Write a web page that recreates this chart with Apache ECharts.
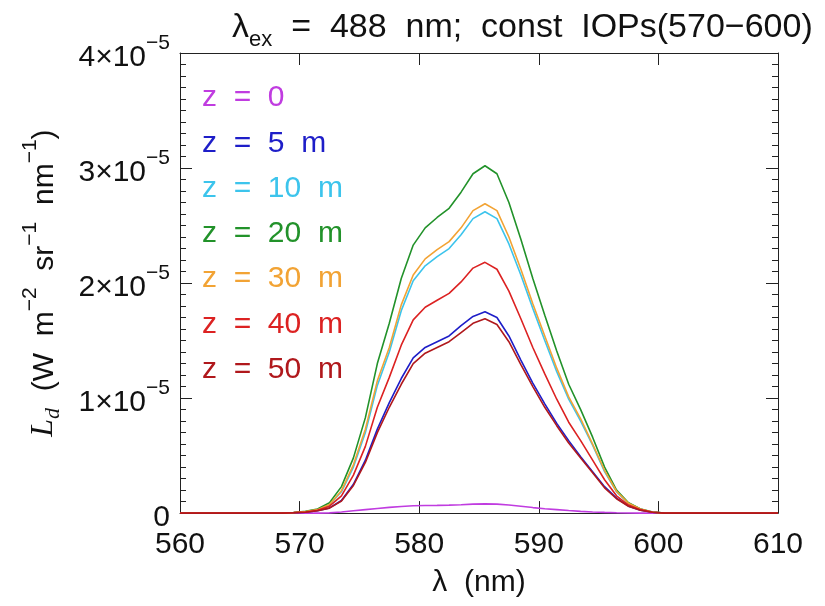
<!DOCTYPE html>
<html>
<head>
<meta charset="utf-8">
<script src="https://cdn.jsdelivr.net/npm/echarts@6/dist/echarts.min.js"></script>
<style>
html,body{margin:0;padding:0;background:#fff;}
#chart{width:825px;height:606px;}
</style>
</head>
<body>
<div id="chart"></div>
<script>
// wavelength (nm)
const wavelength = [560, 568.5, 569.5, 570.5, 571.5, 572.5, 573.5, 574.5, 575.5, 576.5, 577.5, 578.5, 579.5, 580.5, 581.5, 582.5, 583.5, 584.5, 585.5, 586.5, 587.5, 588.5, 589.5, 590.5, 591.5, 592.5, 593.5, 594.5, 595.5, 596.5, 597.5, 598.5, 599.5, 600.5, 610];
// radiance in units of 1e-6 W m^-2 sr^-1 nm^-1
const z0  = [0, 0, 0, 0, 0, 0.02, 0.1, 0.2, 0.3, 0.4, 0.5, 0.58, 0.64, 0.66, 0.67, 0.69, 0.73, 0.78, 0.8, 0.78, 0.7, 0.6, 0.48, 0.38, 0.3, 0.22, 0.15, 0.1, 0.06, 0.03, 0.01, 0, 0, 0, 0];
const z5  = [0, 0, 0.03, 0.08, 0.2, 0.45, 1.1, 2.5, 4.6, 7.3, 9.6, 11.7, 13.5, 14.4, 14.9, 15.4, 16.3, 17.1, 17.5, 17.0, 15.4, 13.3, 11.3, 9.5, 7.8, 6.3, 4.9, 3.6, 2.3, 1.3, 0.6, 0.25, 0.07, 0, 0];
const z10 = [0, 0, 0.05, 0.13, 0.3, 0.72, 1.85, 4.0, 7.0, 11.1, 14.0, 17.6, 20.2, 21.5, 22.3, 23.0, 24.2, 25.6, 26.2, 25.6, 23.4, 20.7, 17.8, 15.0, 12.3, 9.9, 8.0, 5.9, 3.6, 1.85, 0.85, 0.35, 0.1, 0, 0];
const z20 = [0, 0, 0.05, 0.15, 0.35, 0.9, 2.3, 4.8, 8.3, 13.0, 16.5, 20.4, 23.3, 24.8, 25.7, 26.5, 27.9, 29.5, 30.2, 29.5, 27.0, 23.8, 20.4, 17.2, 14.1, 11.2, 9.0, 6.6, 4.0, 2.0, 0.9, 0.35, 0.1, 0, 0];
const z30 = [0, 0, 0.05, 0.13, 0.3, 0.75, 1.95, 4.2, 7.3, 11.5, 14.4, 18.1, 20.7, 22.1, 22.9, 23.6, 24.8, 26.3, 26.9, 26.3, 24.0, 21.2, 18.2, 15.4, 12.6, 10.1, 8.2, 6.0, 3.7, 1.9, 0.85, 0.35, 0.1, 0, 0];
const z40 = [0, 0, 0.04, 0.1, 0.25, 0.6, 1.5, 3.3, 5.8, 9.2, 11.8, 14.6, 16.8, 17.9, 18.5, 19.1, 20.1, 21.3, 21.8, 21.2, 19.3, 16.9, 14.4, 12.1, 9.9, 7.9, 6.3, 4.6, 2.9, 1.5, 0.7, 0.3, 0.08, 0, 0];
const z50 = [0, 0, 0.03, 0.08, 0.2, 0.43, 1.05, 2.4, 4.4, 7.0, 9.2, 11.2, 13.0, 13.9, 14.4, 14.9, 15.7, 16.5, 16.9, 16.4, 14.9, 12.9, 11.0, 9.2, 7.6, 6.1, 4.8, 3.5, 2.2, 1.25, 0.6, 0.25, 0.07, 0, 0];

const seriesNames = ['z  =  0', 'z  =  5  m', 'z  =  10  m', 'z  =  20  m', 'z  =  30  m', 'z  =  40  m', 'z  =  50  m'];
const seriesValues = [z0, z5, z10, z20, z30, z40, z50];
const seriesColors = ['#c03ce0', '#1e1ec8', '#3cc4ec', '#22922a', '#f2a334', '#dc2222', '#b0181c'];

const xTicks = { min: 560, max: 610, interval: 10 };
const yTicks = { min: 0, max: 40, interval: 10 }; // units of 1e-6

const FONT = '"Liberation Sans", Arial, sans-serif';
const AX = '#222';

const chart = echarts.init(document.getElementById('chart'), null, { renderer: 'canvas' });

const series = seriesNames.map((name, i) => ({
  name: name,
  type: 'line',
  symbol: 'none',
  showSymbol: false,
  smooth: false,
  animation: false,
  lineStyle: { color: seriesColors[i], width: 1.6 },
  itemStyle: { color: seriesColors[i] },
  data: wavelength.map((w, j) => [w, seriesValues[i][j]]),
  xAxisIndex: 0,
  yAxisIndex: 0
}));

const yLabelFmt = function (v) {
  if (v === 0) return '{m|0}';
  return '{m|' + (v / 10) + '×10}{s|−5}';
};
const yRich = {
  m: { fontSize: 30, lineHeight: 40, verticalAlign: 'bottom', fontFamily: FONT, color: '#111' },
  s: { fontSize: 21, lineHeight: 21, verticalAlign: 'top', fontFamily: FONT, color: '#111' }
};

const option = {
  backgroundColor: '#fff',
  animation: false,
  title: {
    text: '{m|λ}{b|ex}{m|  =  488  nm;  const  IOPs(570−600)}',
    left: 232,
    top: 5,
    padding: 0,
    textStyle: {
      fontWeight: 'normal',
      rich: {
        m: { fontSize: 34, lineHeight: 40, verticalAlign: 'bottom', fontFamily: FONT, fontWeight: 'normal', color: '#111' },
        b: { fontSize: 22, lineHeight: 22, verticalAlign: 'bottom', fontFamily: FONT, fontWeight: 'normal', color: '#111', padding: [0, 0, -6, 0] }
      }
    }
  },
  legend: {
    orient: 'vertical',
    left: 197,
    top: 83,
    padding: 0,
    itemGap: 15.3,
    itemWidth: 0,
    itemHeight: 30,
    icon: 'rect',
    itemStyle: { opacity: 0 },
    selectedMode: false,
    data: seriesNames.map((n, i) => ({
      name: n,
      textStyle: { color: seriesColors[i], fontSize: 30, lineHeight: 30, fontFamily: FONT }
    }))
  },
  grid: { left: 180, right: 47, top: 53, bottom: 83, containLabel: false },
  xAxis: [
    {
      type: 'value', position: 'bottom',
      min: xTicks.min, max: xTicks.max, interval: xTicks.interval,
      axisLine: { show: true, onZero: false, lineStyle: { color: AX, width: 1 } },
      axisTick: { show: true, inside: true, length: 12, lineStyle: { color: AX } },
      splitLine: { show: false },
      axisLabel: { margin: 17, fontSize: 30, lineHeight: 30, fontFamily: FONT, color: '#111' },
      name: 'λ  (nm)',
      nameLocation: 'middle',
      nameGap: 44,
      nameTextStyle: { fontSize: 30, lineHeight: 36, fontFamily: FONT, color: '#111' }
    },
    {
      type: 'value', position: 'top',
      min: xTicks.min, max: xTicks.max, interval: xTicks.interval,
      axisLine: { show: true, onZero: false, lineStyle: { color: AX, width: 1 } },
      axisTick: { show: true, inside: true, length: 12, lineStyle: { color: AX } },
      splitLine: { show: false },
      axisLabel: { show: false }
    }
  ],
  yAxis: [
    {
      type: 'value', position: 'left',
      min: yTicks.min, max: yTicks.max, interval: yTicks.interval,
      axisLine: { show: true, onZero: false, lineStyle: { color: AX, width: 1 } },
      axisTick: { show: true, inside: true, length: 12, lineStyle: { color: AX } },
      minorTick: { show: true, splitNumber: 10, length: 6, lineStyle: { color: AX } },
      splitLine: { show: false },
      axisLabel: { margin: 10, formatter: yLabelFmt, rich: yRich },
      name: '{it|L}{itb|d}{m|  (W  m}{s|−2}{m|  sr}{s|−1}{m|  nm}{s|−1}{m|)}',
      nameLocation: 'middle',
      nameRotate: 90,
      nameGap: 120,
      nameTextStyle: {
        rich: {
          it: { fontSize: 32, lineHeight: 40, verticalAlign: 'bottom', fontFamily: '"Liberation Serif", "DejaVu Serif", serif', fontStyle: 'italic', color: '#111' },
          itb: { fontSize: 22, lineHeight: 22, verticalAlign: 'bottom', fontFamily: '"Liberation Serif", "DejaVu Serif", serif', fontStyle: 'italic', color: '#111', padding: [0, 0, -4, 0] },
          m: { fontSize: 30, lineHeight: 40, verticalAlign: 'bottom', fontFamily: FONT, color: '#111' },
          s: { fontSize: 21, lineHeight: 21, verticalAlign: 'top', fontFamily: FONT, color: '#111' }
        }
      }
    },
    {
      type: 'value', position: 'right',
      min: yTicks.min, max: yTicks.max, interval: yTicks.interval,
      axisLine: { show: true, onZero: false, lineStyle: { color: AX, width: 1 } },
      axisTick: { show: true, inside: true, length: 12, lineStyle: { color: AX } },
      minorTick: { show: true, splitNumber: 10, length: 6, lineStyle: { color: AX } },
      splitLine: { show: false },
      axisLabel: { show: false }
    }
  ],
  series: series
};

chart.setOption(option);
</script>
</body>
</html>
